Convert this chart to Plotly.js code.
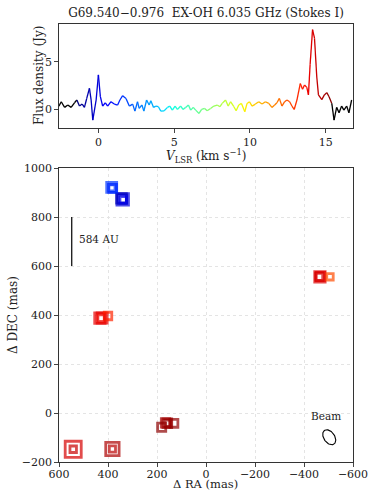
<!DOCTYPE html>
<html>
<head>
<meta charset="utf-8">
<script src="https://cdn.plot.ly/plotly-3.0.1.min.js"></script>
<style>html,body{margin:0;padding:0;background:#fff;}#chart{width:372px;height:492px;}</style>
</head>
<body>
<div id="chart"></div>
<script>
// ---- Spectrum (Stokes I) ----
const specV = [-2.61,-2.45,-2.23,-2.02,-1.80,-1.58,-1.42,-1.25,-1.07,-0.92,-0.77,-0.59,-0.48,-0.37,-0.15,0.00,0.13,0.28,0.46,0.61,0.83,1.05,1.27,1.42,1.60,1.82,2.04,2.26,2.41,2.58,2.69,2.87,3.00,3.18,3.35,3.46,3.64,3.79,3.96,4.12,4.34,4.56,4.71,4.88,5.06,5.21,5.43,5.58,5.76,5.94,6.09,6.26,6.42,6.64,6.81,7.01,7.18,7.40,7.62,7.84,8.02,8.17,8.39,8.56,8.72,8.94,9.09,9.26,9.44,9.66,9.81,9.97,10.14,10.36,10.58,10.80,11.02,11.24,11.45,11.63,11.78,11.94,12.11,12.29,12.44,12.62,12.77,12.92,13.10,13.32,13.47,13.60,13.75,13.86,13.97,14.13,14.26,14.41,14.52,14.74,14.91,15.07,15.22,15.40,15.55,15.72,15.88,16.05,16.20,16.38,16.53,16.71];
const specFlux = [0.32,0.78,0.18,0.43,0.18,0.67,0.96,0.32,0.53,0.18,1.13,2.20,0.96,-1.17,0.96,3.62,1.31,0.32,0.67,0.32,0.78,0.53,0.43,0.96,1.42,1.13,0.32,0.53,-0.21,0.78,0.07,0.43,-0.21,0.96,0.43,0.89,0.18,0.32,0.25,-0.21,-0.18,0.18,0.32,-0.11,0.32,-0.04,0.32,-0.04,0.18,0.43,-0.11,0.18,-0.11,-0.46,-0.04,0.07,-0.18,0.07,0.32,0.43,0.25,0.60,0.96,0.32,0.78,0.25,-0.18,0.43,0.60,-0.28,0.60,0.78,0.32,0.53,0.78,0.53,0.78,0.60,0.18,0.43,0.67,1.13,0.32,0.78,0.96,0.78,0.32,-0.04,0.96,2.70,2.10,2.55,2.30,1.50,4.70,8.40,7.50,3.40,1.50,1.00,1.50,1.74,1.30,0.60,-1.17,0.18,-0.39,0.32,-0.11,0.32,-0.39,0.96];
const velRange = [-1.35, 15.45];

// ---- Maser spots ----
const spotRA   = [385, 381, 384, 340, 345, 338, 341, 433, 424, 428, 400, -465, -462, -467, -506, 181, 165, 158, 131, 155, 542, 542, 382, 382];
const spotDEC  = [921, 917, 919, 872, 876, 870, 873, 387, 388, 387, 396, 556, 556, 557, 556, -58, -40, -42, -42, -42, -148, -148, -147, -147];
const spotV    = [1.6, 1.4, 1.5, 0.0, -0.6, 0.2, -0.2, 13.9, 14.0, 13.8, 13.3, 14.1, 14.2, 14.0, 12.6, 15.25, 14.95, 15.05, 15.2, 15.1, 14.2, 14.4, 14.8, 14.6];
const spotFlux = [2.4, 1.2, 0.5, 3.6, 2.2, 0.6, 1.2, 2.7, 2.5, 0.6, 1.0, 2.7, 0.8, 1.4, 0.6, 1.3, 1.5, 1.7, 1.2, 0.5, 8.4, 0.6, 5.3, 0.5];

// ---- Scale bar & beam ----
const scaleRA = [548, 548];
const scaleDEC = [600, 800];
const scaleLabel = '584 AU';
const beamCenter = [-503, -99];
const beamAxes = [34, 22];   // semi-major, semi-minor (mas)
const beamPA = [35];         // degrees east of north

function jet(t) {
  t = Math.max(0, Math.min(1, t));
  function interp(pts) {
    for (let i = 0; i < pts.length - 1; i++) {
      const [x0, y0] = pts[i], [x1, y1] = pts[i + 1];
      if (t >= x0 && t <= x1) return y0 + (y1 - y0) * (t - x0) / (x1 - x0);
    }
    return pts[pts.length - 1][1];
  }
  const r = interp([[0,0],[0.35,0],[0.66,1],[0.89,1],[1,0.5]]);
  const g = interp([[0,0],[0.125,0],[0.375,1],[0.64,1],[0.91,0],[1,0]]);
  const b = interp([[0,0.5],[0.11,1],[0.34,1],[0.65,0],[1,0]]);
  return 'rgb(' + Math.round(r*255) + ',' + Math.round(g*255) + ',' + Math.round(b*255) + ')';
}
function velColor(v) {
  if (v < velRange[0] || v > velRange[1]) return '#000000';
  return jet((v - velRange[0]) / (velRange[1] - velRange[0]));
}

const traces = [];
for (let i = 0; i < specV.length - 1; i++) {
  traces.push({
    x: [specV[i], specV[i+1]], y: [specFlux[i], specFlux[i+1]],
    mode: 'lines', line: {color: velColor((specV[i] + specV[i+1]) / 2), width: 1.3},
    xaxis: 'x', yaxis: 'y', showlegend: false, hoverinfo: 'skip'
  });
}
// spots sorted so larger drawn first
const order = spotFlux.map((f, i) => i).sort((a, b) => spotFlux[b] - spotFlux[a]);
traces.push({
  x: order.map(i => spotRA[i]), y: order.map(i => spotDEC[i]),
  mode: 'markers', xaxis: 'x2', yaxis: 'y2', showlegend: false,
  marker: {
    symbol: 'square-open',
    size: order.map(i => 3 + 4.5 * Math.sqrt(spotFlux[i])),
    color: order.map(i => velColor(spotV[i])),
    line: {width: 2.8}
  }
});
// scale bar
traces.push({x: scaleRA, y: scaleDEC, mode: 'lines', line: {color: '#000', width: 1.2},
  xaxis: 'x2', yaxis: 'y2', showlegend: false, hoverinfo: 'skip'});
// beam ellipse
const bx = [], by = [];
const pa = beamPA[0] * Math.PI / 180;
for (let k = 0; k <= 72; k++) {
  const t = 2 * Math.PI * k / 72;
  const a = beamAxes[0] * Math.cos(t), b = beamAxes[1] * Math.sin(t);
  bx.push(beamCenter[0] + a * Math.sin(pa) + b * Math.cos(pa));
  by.push(beamCenter[1] + a * Math.cos(pa) - b * Math.sin(pa));
}
traces.push({x: bx, y: by, mode: 'lines', line: {color: '#000', width: 1.1},
  xaxis: 'x2', yaxis: 'y2', showlegend: false, hoverinfo: 'skip'});

const FONT = "'DejaVu Serif', 'Liberation Serif', serif";
const W = 372, H = 492;
const xdom = [59 / W, 353 / W];
const axisCommon = {
  ticks: 'outside', ticklen: 3.5, tickwidth: 1, tickcolor: '#444',
  showline: true, mirror: true, linecolor: '#333', linewidth: 1.3,
  zeroline: false, tickfont: {size: 11, family: FONT, color: '#222'}
};
const tf = {size: 12, family: FONT, color: '#222'};
const layout = {
  width: W, height: H,
  margin: {l: 0, r: 0, t: 0, b: 0},
  paper_bgcolor: '#fff', plot_bgcolor: '#fff',
  font: {family: FONT, color: '#222', size: 11},
  title: {text: 'G69.540−0.976\u00a0\u00a0EX-OH 6.035 GHz (Stokes I)', font: {size: 12, family: FONT, color: '#222'},
    xref: 'paper', x: (206) / W, xanchor: 'center', yref: 'container', y: 1 - 13 / H, yanchor: 'middle'},
  xaxis: Object.assign({}, axisCommon, {domain: xdom, anchor: 'y', range: [-2.6, 16.8], tickvals: [0, 5, 10, 15], showgrid: false}),
  yaxis: Object.assign({}, axisCommon, {domain: [1 - 128 / H, 1 - 24 / H], anchor: 'x', range: [-2, 9], tickvals: [0, 5], showgrid: false}),
  xaxis2: Object.assign({}, axisCommon, {domain: xdom, anchor: 'y2', range: [600, -600], tickvals: [600, 400, 200, 0, -200, -400, -600],
    ticklabelstandoff: -2,
    showgrid: true, gridcolor: '#e4e4e4', griddash: 'dot', gridwidth: 1}),
  yaxis2: Object.assign({}, axisCommon, {domain: [1 - 462 / H, 1 - 168 / H], anchor: 'x2', range: [-200, 1000], tickvals: [-200, 0, 200, 400, 600, 800, 1000],
    showgrid: true, gridcolor: '#e4e4e4', griddash: 'dot', gridwidth: 1}),
  annotations: [
    {x: 206 / W, y: 1 - 145 / H, xref: 'paper', yref: 'paper', text: '<i>V</i><sub>LSR</sub> (km s<sup>−1</sup>)', showarrow: false, xanchor: 'center', yanchor: 'top', font: tf},
    {x: 39 / W, y: 1 - 76 / H, xref: 'paper', yref: 'paper', text: 'Flux density (Jy)', textangle: -90, showarrow: false, xanchor: 'center', yanchor: 'middle', font: tf},
    {x: 206 / W, y: 0, xref: 'paper', yref: 'paper', text: 'Δ RA (mas)', showarrow: false, xanchor: 'center', yanchor: 'bottom', borderpad: 0, font: {size: 11.5, family: FONT, color: '#222'}},
    {x: 13 / W, y: 1 - 315 / H, xref: 'paper', yref: 'paper', text: 'Δ DEC (mas)', textangle: -90, showarrow: false, xanchor: 'center', yanchor: 'middle', font: tf},
    {x: 527, y: 712, xref: 'x2', yref: 'y2', text: scaleLabel, showarrow: false, xanchor: 'left', yanchor: 'middle', font: {size: 10.5, family: FONT, color: '#222'}},
    {x: -490, y: -12, xref: 'x2', yref: 'y2', text: 'Beam', showarrow: false, xanchor: 'center', yanchor: 'middle', font: {size: 10.5, family: FONT, color: '#222'}}
  ]
};
Plotly.newPlot('chart', traces, layout, {staticPlot: true, displayModeBar: false});
</script>
</body>
</html>
